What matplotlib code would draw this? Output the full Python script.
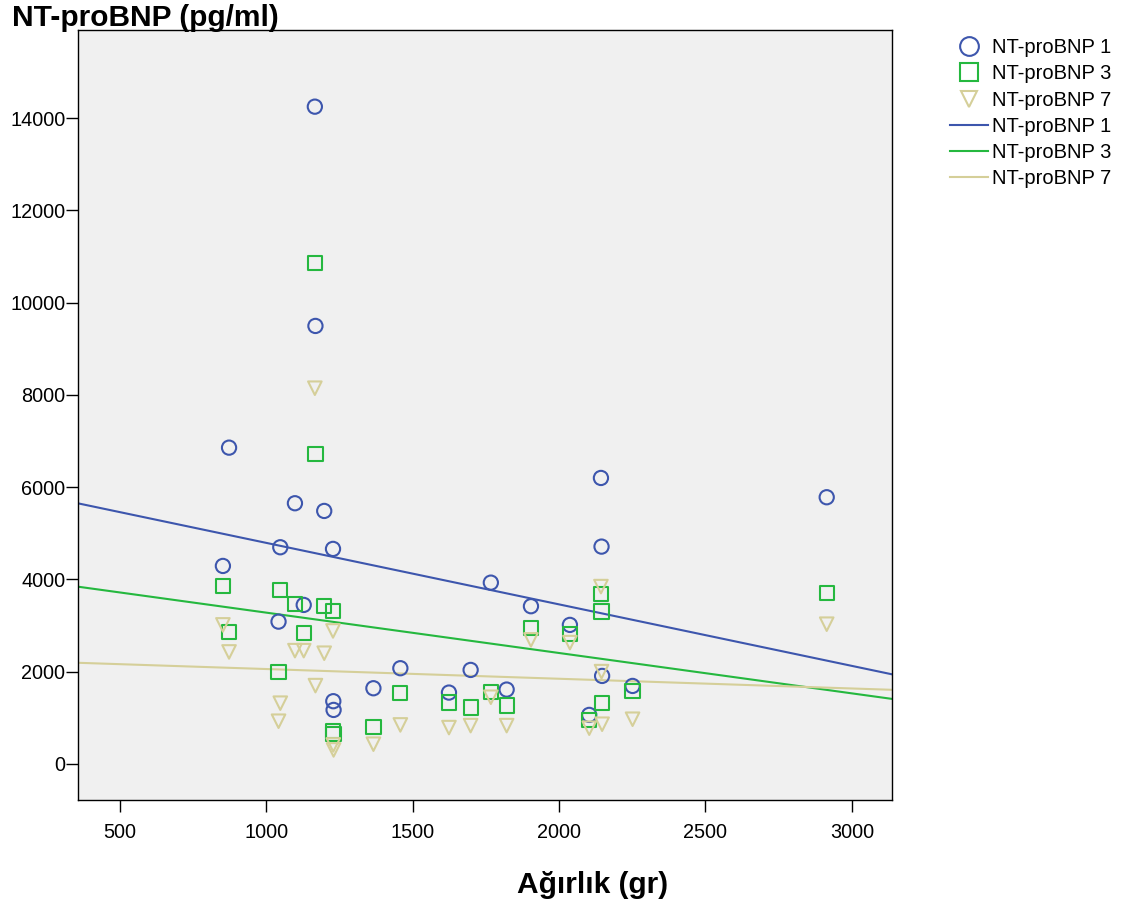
import numpy as np
import matplotlib
matplotlib.use("Agg")
import matplotlib.pyplot as plt
from matplotlib.lines import Line2D

plt.rcParams['font.family'] = ['Liberation Sans', 'DejaVu Sans']

# Birth weight (gr) and NT-proBNP (pg/ml) on days 1, 3 and 7
weight = [852, 873, 1042, 1048, 1098, 1128, 1166, 1168, 1198, 1228, 1229, 1230,
          1366, 1458, 1624, 1698, 1767, 1821, 1904, 2037, 2103, 2143, 2145, 2147,
          2251, 2914]
ntprobnp_1 = [4291, 6855, 3084, 4696, 5650, 3446, 14246, 9493, 5483, 4660, 1359, 1170,
              1640, 2074, 1546, 2037, 3929, 1611, 3418, 3013, 1062, 6198, 4710, 1907,
              1690, 5780]
ntprobnp_3 = [3858, 2860, 1994, 3765, 3468, 2832, 10852, 6719, 3417, 3316, 716, 645,
              808, 1532, 1329, 1221, 1553, 1264, 2941, 2818, 954, 3684, 3301, 1316,
              1582, 3699]
ntprobnp_7 = [3013, 2427, 925, 1316, 2455, 2455, 8143, 1697, 2399, 2882, 412, 303,
              427, 845, 787, 830, 1445, 830, 2688, 2629, 774, 3843, 2000, 860,
              968, 3028]

series_labels = ["NT-proBNP 1", "NT-proBNP 3", "NT-proBNP 7"]
colors = ["#3d56ad", "#25b83f", "#d5cf99"]
markers = ["o", "s", "v"]

x_ticks = [500, 1000, 1500, 2000, 2500, 3000]
y_ticks = [0, 2000, 4000, 6000, 8000, 10000, 12000, 14000]
x_range = (357, 3137)
y_range = (-780, 15907)

fig = plt.figure(figsize=(11.33, 9.10), dpi=100)
ax = fig.add_axes([0.0688, 0.121, 0.7185, 0.846])
ax.set_facecolor("#f0f0f0")

x = np.array(weight, dtype=float)
series = [ntprobnp_1, ntprobnp_3, ntprobnp_7]

for vals, col, mk in zip(series, colors, markers):
    ax.scatter(x, vals, s=105 if mk != "v" else 95, marker=mk, facecolors="none",
               edgecolors=col, linewidths=1.5, zorder=3)

# Least-squares fit lines across the full x range
xs = np.array(x_range, dtype=float)
for vals, col in zip(series, colors):
    slope, intercept = np.polyfit(x, np.array(vals, dtype=float), 1)
    ax.plot(xs, intercept + slope * xs, color=col, lw=1.5, zorder=2)

ax.set_xlim(*x_range)
ax.set_ylim(*y_range)
ax.set_xticks(x_ticks)
ax.set_yticks(y_ticks)
ax.tick_params(axis="both", direction="out", length=8.5, width=1, labelsize=14.3,
               colors="black")
ax.tick_params(axis="y", pad=0.5)
ax.tick_params(axis="x", pad=8)
for sp in ax.spines.values():
    sp.set_color("black")
    sp.set_linewidth(1)

fig.text(0.0106, 0.9714, "NT-proBNP (pg/ml)", fontsize=21.5, fontweight="bold",
         ha="left", va="baseline", zorder=5)
fig.text(0.523, 0.019, "Ağırlık (gr)", fontsize=21.5, fontweight="bold",
         ha="center", va="baseline")

handles = []
for col, mk, lab in zip(colors, markers, series_labels):
    handles.append(Line2D([], [], linestyle="none", marker=mk,
                          markersize=13.5 if mk != "v" else 12,
                          markerfacecolor="none", markeredgecolor=col,
                          markeredgewidth=1.5, label=lab))
for col, lab in zip(colors, series_labels):
    handles.append(Line2D([], [], color=col, lw=1.5, label=lab))

fig.legend(handles=handles, loc="upper left", bbox_to_anchor=(0.8385, 0.958),
           frameon=False, fontsize=14.5, handlelength=1.9, handletextpad=0.2,
           labelspacing=0.36, borderaxespad=0, borderpad=0)

fig.savefig("out.png", dpi=100, facecolor="white")
